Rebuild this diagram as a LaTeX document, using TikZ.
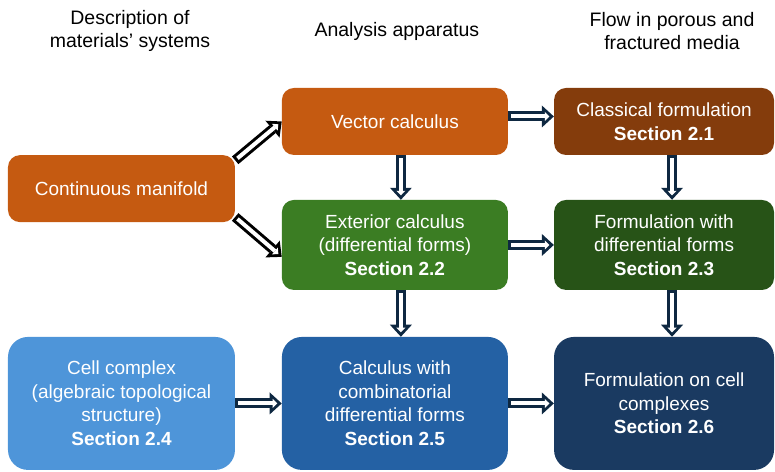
\documentclass[tikz,border=0pt]{standalone}
\usepackage{fontspec}
\setmainfont{Liberation Sans}
\usepackage{xcolor}
\usetikzlibrary{arrows.meta,positioning,calc}
\definecolor{vecOrange}{HTML}{C55A11}
\definecolor{clsBrown}{HTML}{843C0C}
\definecolor{extGreen}{HTML}{3B7D23}
\definecolor{frmGreen}{HTML}{275317}
\definecolor{celBlue}{HTML}{4E95D9}
\definecolor{cmbBlue}{HTML}{2461A4}
\definecolor{cfmNavy}{HTML}{1A3A61}
\definecolor{arrNavy}{HTML}{0E2841}
\tikzset{
  box/.style={rounded corners=12pt, fill=#1, text=white, align=center, inner sep=4pt,
              font=\fontsize{19}{23.5}\selectfont, minimum width=226pt, minimum height=67pt},
  tallbox/.style={box=#1, minimum height=90pt},
  bigbox/.style={box=#1, rounded corners=20pt, minimum height=133pt},
  head/.style={align=center, font=\fontsize{19.5}{23.5}\selectfont},
  hollow/.style={line width=10pt, draw=#1, -{Triangle[length=12pt,width=22pt,line width=0pt]}},
  hollowin/.style={line width=4pt, draw=white, shorten <=3pt, shorten >=4.4pt,
                   -{Triangle[length=4.6pt,width=9pt,line width=0pt]}},
}
% outlined block arrow: dark body, white core
\newcommand{\hollowlink}[3][arrNavy]{\draw[hollow=#1] #2 -- #3; \draw[hollowin] #2 -- #3;}

\begin{document}
\begin{tikzpicture}
  \useasboundingbox (0,0) rectangle (27.24,16.59);
  % column titles
  \node[head] (h1) at (4.57,15.50)  {Description of\\materials' systems};
  \node[head] (h2) at (13.95,15.50) {Analysis apparatus};
  \node[head] (h3) at (23.62,15.50) {Flow in porous and\\fractured media};
  % boxes
  \node[box=vecOrange, minimum width=227pt] (man) at (4.27,9.96) {Continuous manifold};
  \node[box=vecOrange] (vec) at (13.88,12.32) {Vector calculus};
  \node[box=clsBrown, minimum width=220pt] (cls) at (23.34,12.32) {Classical formulation\\\textbf{Section 2.1}};
  \node[tallbox=extGreen] (ext) at (13.88,7.98) {Exterior calculus\\(differential forms)\\\textbf{Section 2.2}};
  \node[tallbox=frmGreen, minimum width=220pt] (frm) at (23.34,7.98) {Formulation with\\differential forms\\\textbf{Section 2.3}};
  \node[bigbox=celBlue, minimum width=227pt] (cel) at (4.27,2.41) {Cell complex\\(algebraic topological\\structure)\\\textbf{Section 2.4}};
  \node[bigbox=cmbBlue] (cmb) at (13.88,2.41) {Calculus with\\combinatorial\\differential forms\\\textbf{Section 2.5}};
  \node[bigbox=cfmNavy, minimum width=220pt] (cfm) at (23.34,2.41) {Formulation on cell\\complexes\\\textbf{Section 2.6}};
  % arrows
  \hollowlink[black]{(man.14)}{(vec.west)}
  \hollowlink[black]{(man.-14)}{(ext.186)}
  \hollowlink{([yshift=5pt]vec.east)}{([yshift=5pt]cls.west)}
  \hollowlink{([xshift=6pt]vec.south)}{([xshift=6pt]ext.north)}
  \hollowlink{([xshift=8pt]cls.south)}{([xshift=8pt]frm.north)}
  \hollowlink{(ext.east)}{(frm.west)}
  \hollowlink{([xshift=6pt]ext.south)}{([xshift=6pt]cmb.north)}
  \hollowlink{([xshift=8pt]frm.south)}{([xshift=8pt]cfm.north)}
  \hollowlink{(cel.east)}{(cmb.west)}
  \hollowlink{(cmb.east)}{(cfm.west)}
\end{tikzpicture}
\end{document}
